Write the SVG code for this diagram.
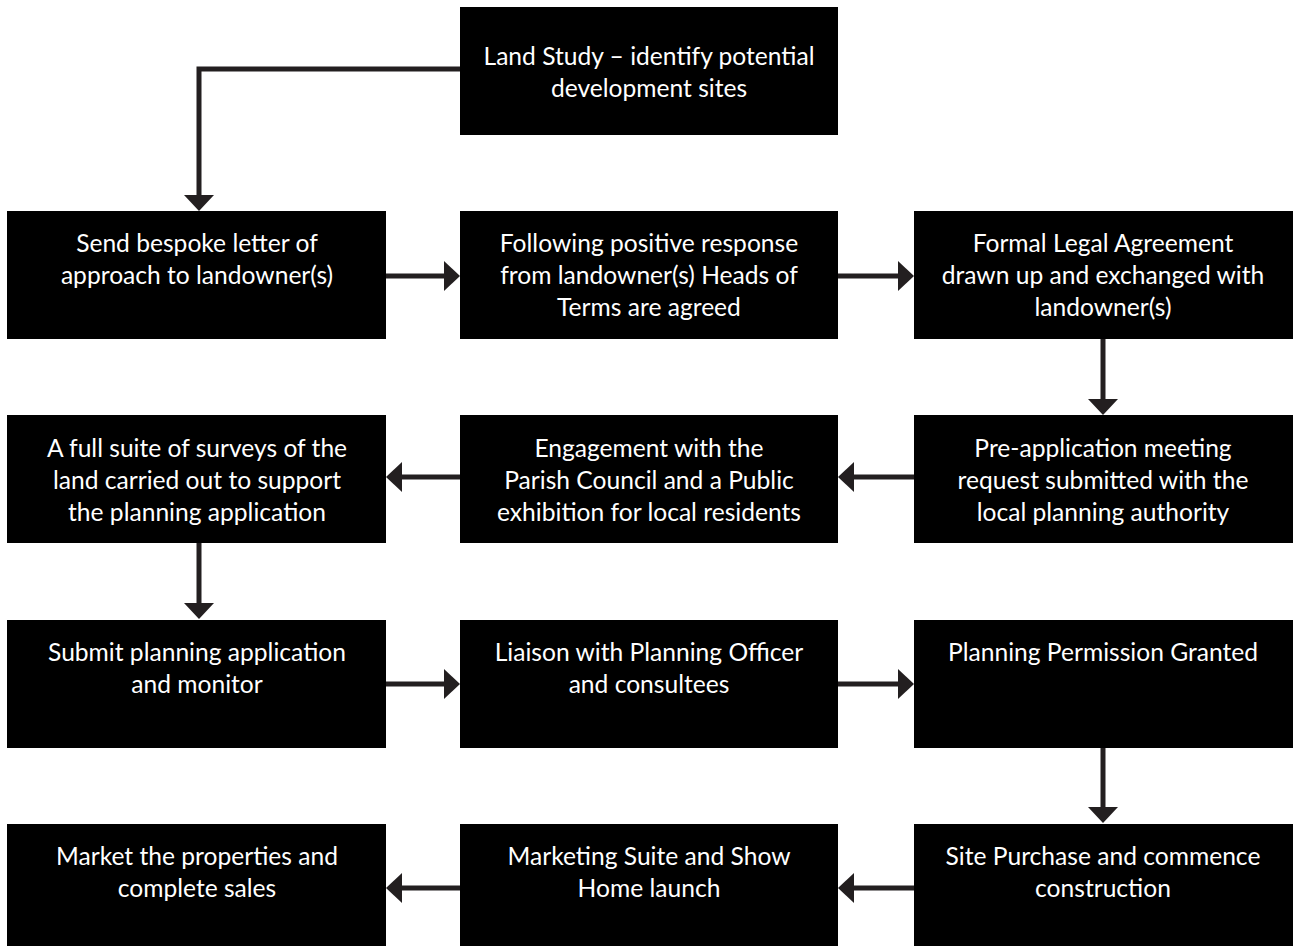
<svg xmlns="http://www.w3.org/2000/svg" width="1293" height="946" viewBox="0 0 1293 946">
<style>
.box{fill:#000}
.t{fill:#fff;font-family:Lato,"Open Sans","Liberation Sans",sans-serif;font-size:24.6px;text-anchor:middle}
.c{stroke:#231f20;stroke-width:5;fill:none}
.h{fill:#231f20}
</style>
<rect width="1293" height="946" fill="#fff"/>
<g id="connectors">
<path class="c" d="M460 69 H199 V196"/>
<path class="h" d="M184 195 L214 195 L199 211 Z"/>
<path class="c" d="M386 276 H445"/>
<path class="h" d="M444 261 L460 276 L444 291 Z"/>
<path class="c" d="M838 276 H899"/>
<path class="h" d="M898 261 L914 276 L898 291 Z"/>
<path class="c" d="M1103 339 V400"/>
<path class="h" d="M1088 399 L1118 399 L1103 415 Z"/>
<path class="c" d="M914 477 H853"/>
<path class="h" d="M854 462 L838 477 L854 492 Z"/>
<path class="c" d="M460 477 H401"/>
<path class="h" d="M402 462 L386 477 L402 492 Z"/>
<path class="c" d="M199 543 V604"/>
<path class="h" d="M184 603 L214 603 L199 619 Z"/>
<path class="c" d="M386 684 H445"/>
<path class="h" d="M444 669 L460 684 L444 699 Z"/>
<path class="c" d="M838 684 H899"/>
<path class="h" d="M898 669 L914 684 L898 699 Z"/>
<path class="c" d="M1103 748 V808"/>
<path class="h" d="M1088 807 L1118 807 L1103 823 Z"/>
<path class="c" d="M914 888 H853"/>
<path class="h" d="M854 873 L838 888 L854 903 Z"/>
<path class="c" d="M460 888 H401"/>
<path class="h" d="M402 873 L386 888 L402 903 Z"/>
</g>
<g id="n0"><rect class="box" x="460" y="7" width="378" height="128"/><text class="t" x="649" y="65">Land Study – identify potential</text><text class="t" x="649" y="97">development sites</text></g>
<g id="n1"><rect class="box" x="7" y="211" width="379" height="128"/><text class="t" x="197" y="252">Send bespoke letter of</text><text class="t" x="197" y="284">approach to landowner(s)</text></g>
<g id="n2"><rect class="box" x="460" y="211" width="378" height="128"/><text class="t" x="649" y="252">Following positive response</text><text class="t" x="649" y="284">from landowner(s) Heads of</text><text class="t" x="649" y="316">Terms are agreed</text></g>
<g id="n3"><rect class="box" x="914" y="211" width="379" height="128"/><text class="t" x="1103" y="252">Formal Legal Agreement</text><text class="t" x="1103" y="284">drawn up and exchanged with</text><text class="t" x="1103" y="316">landowner(s)</text></g>
<g id="n4"><rect class="box" x="914" y="415" width="379" height="128"/><text class="t" x="1103" y="457">Pre-application meeting</text><text class="t" x="1103" y="489">request submitted with the</text><text class="t" x="1103" y="521">local planning authority</text></g>
<g id="n5"><rect class="box" x="460" y="415" width="378" height="128"/><text class="t" x="649" y="457">Engagement with the</text><text class="t" x="649" y="489">Parish Council and a Public</text><text class="t" x="649" y="521">exhibition for local residents</text></g>
<g id="n6"><rect class="box" x="7" y="415" width="379" height="128"/><text class="t" x="197" y="457">A full suite of surveys of the</text><text class="t" x="197" y="489">land carried out to support</text><text class="t" x="197" y="521">the planning application</text></g>
<g id="n7"><rect class="box" x="7" y="620" width="379" height="128"/><text class="t" x="197" y="661">Submit planning application</text><text class="t" x="197" y="693">and monitor</text></g>
<g id="n8"><rect class="box" x="460" y="620" width="378" height="128"/><text class="t" x="649" y="661">Liaison with Planning Officer</text><text class="t" x="649" y="693">and consultees</text></g>
<g id="n9"><rect class="box" x="914" y="620" width="379" height="128"/><text class="t" x="1103" y="661">Planning Permission Granted</text></g>
<g id="n10"><rect class="box" x="914" y="824" width="379" height="130"/><text class="t" x="1103" y="865">Site Purchase and commence</text><text class="t" x="1103" y="897">construction</text></g>
<g id="n11"><rect class="box" x="460" y="824" width="378" height="130"/><text class="t" x="649" y="865">Marketing Suite and Show</text><text class="t" x="649" y="897">Home launch</text></g>
<g id="n12"><rect class="box" x="7" y="824" width="379" height="130"/><text class="t" x="197" y="865">Market the properties and</text><text class="t" x="197" y="897">complete sales</text></g>
</svg>
